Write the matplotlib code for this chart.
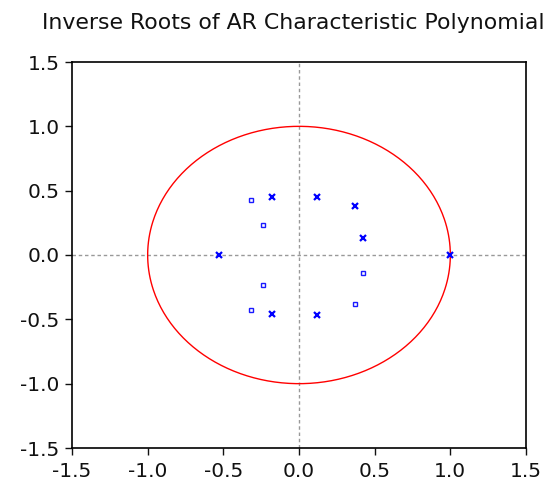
import numpy as np
import matplotlib
matplotlib.use("Agg")
import matplotlib.pyplot as plt

root_re_a = [-0.32, -0.32, -0.24, -0.24, 0.37, 0.42]
root_im_a = [0.43, -0.43, 0.23, -0.23, -0.38, -0.14]
root_re_b = [-0.18, -0.18, 0.12, 0.12, 0.37, 0.42, -0.53, 1.00]
root_im_b = [0.45, -0.46, 0.45, -0.47, 0.38, 0.13, 0.00, 0.00]
ticks = [-1.5, -1.0, -0.5, 0.0, 0.5, 1.0, 1.5]
tick_labels = ["-1.5", "-1.0", "-0.5", "0.0", "0.5", "1.0", "1.5"]
title = "Inverse Roots of AR Characteristic Polynomial"

plt.rcParams['font.family'] = ['DejaVu Sans']

fig = plt.figure(figsize=(5.5, 4.82), dpi=100)
ax = fig.add_axes([72/550, 1 - 448/482, 454/550, 386/482])

ax.axhline(0, color="#999999", lw=1.0, ls=(0, (2.5, 2)), zorder=1)
ax.axvline(0, color="#999999", lw=1.0, ls=(0, (2.5, 2)), zorder=1)

t = np.linspace(0, 2*np.pi, 400)
ax.plot(np.cos(t), np.sin(t), color="#ff0000", lw=1.0, zorder=2)

ax.plot(root_re_a, root_im_a, ls="none", marker="s", ms=3.2, mfc="none",
        mec="#1a1aff", mew=1.0, zorder=3)
ax.plot(root_re_b, root_im_b, ls="none", marker="x", ms=4, mec="#0000ff",
        mew=1.6, zorder=3)

ax.set_xlim(-1.5, 1.5)
ax.set_ylim(-1.5, 1.5)
ax.set_xticks(ticks)
ax.set_xticklabels(tick_labels)
ax.set_yticks(ticks)
ax.set_yticklabels(tick_labels)
ax.tick_params(direction="out", length=5, width=1.0, labelsize=14.5,
               colors="#111111")
ax.tick_params(axis="x", pad=5)
ax.tick_params(axis="y", pad=4)
for s in ax.spines.values():
    s.set_linewidth(1.2)

fig.text(42/550, 1 - 23/482, title, fontsize=15.8, ha="left", va="center",
         color="#111111")

fig.savefig("out.png", dpi=100)
